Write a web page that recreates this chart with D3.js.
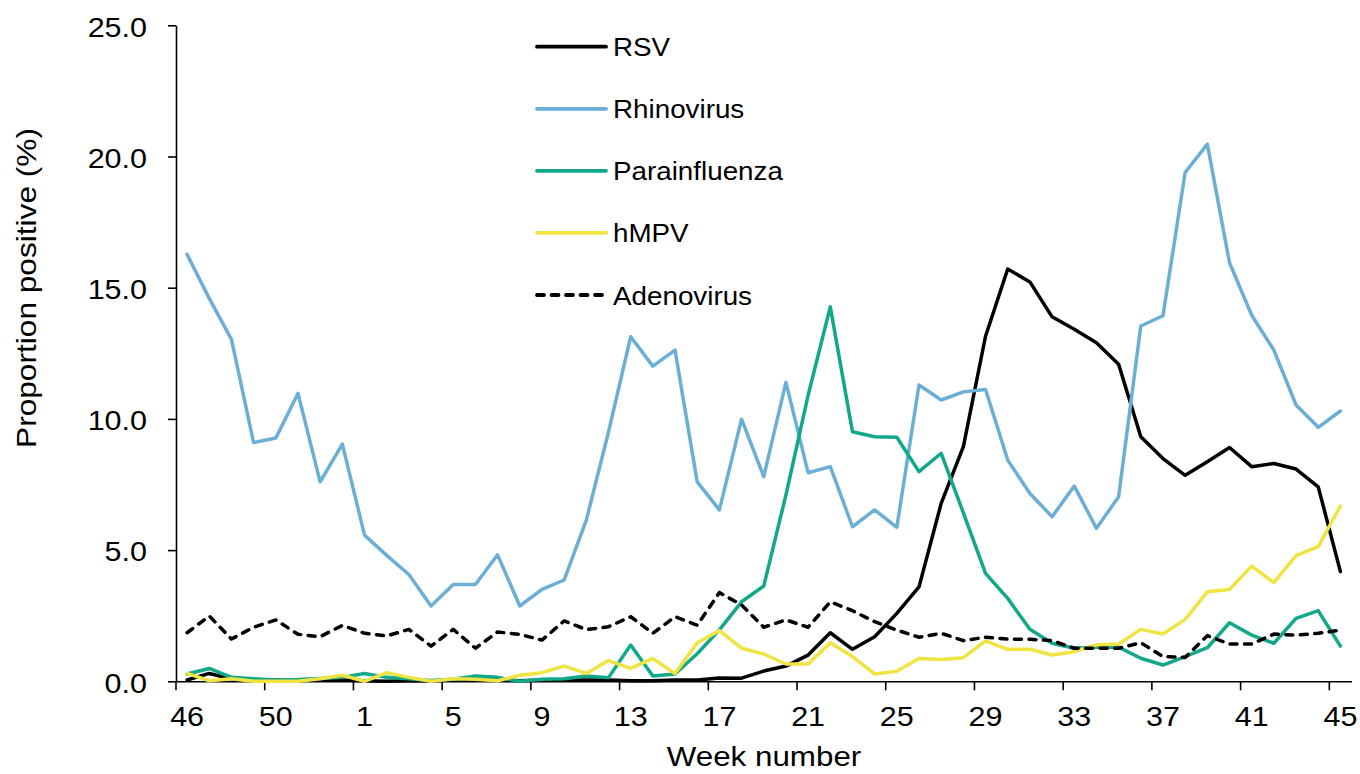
<!DOCTYPE html>
<html><head><meta charset="utf-8">
<script src="https://cdn.jsdelivr.net/npm/d3@7"></script>
<style>body{margin:0;background:#fff} text{font-family:"Liberation Sans",Arial,sans-serif;fill:#000}</style>
</head><body><svg id="c" width="1360" height="774"></svg>
<script>
const weeks=[46,47,48,49,50,51,52,53,1,2,3,4,5,6,7,8,9,10,11,12,13,14,15,16,17,18,19,20,21,22,23,24,25,26,27,28,29,30,31,32,33,34,35,36,37,38,39,40,41,42,43,44,45];
const xTickWeeks=[46,50,1,5,9,13,17,21,25,29,33,37,41,45];
const yTicks=[0,5,10,15,20,25];
const seriesNames=["RSV","Rhinovirus","Parainfluenza","hMPV","Adenovirus"];
const rsv=[0.05,0.3,0.1,0.05,0.05,0.05,0.05,0.05,0.02,0.0,0.02,0.02,0.05,0.05,0.05,0.02,0.05,0.05,0.05,0.05,0.02,0.02,0.05,0.05,0.13,0.12,0.39,0.58,1.0,1.85,1.22,1.7,2.59,3.6,6.78,8.94,13.15,15.71,15.22,13.89,13.42,12.9,12.08,9.32,8.49,7.85,8.37,8.91,8.18,8.3,8.09,7.41,4.18];
const rhinovirus=[16.27,14.59,13.03,9.10,9.27,10.97,7.60,9.04,5.57,4.8,4.07,2.87,3.69,3.69,4.82,2.87,3.5,3.86,6.14,9.5,13.13,12.01,12.62,7.6,6.53,9.99,7.8,11.39,7.95,8.18,5.89,6.53,5.87,11.29,10.72,11.03,11.12,8.43,7.16,6.27,7.44,5.83,7.03,13.54,13.93,19.39,20.47,15.95,13.95,12.62,10.53,9.68,10.3];
const parainfluenza=[0.28,0.49,0.15,0.1,0.05,0.07,0.11,0.15,0.3,0.15,0.1,0.03,0.08,0.2,0.15,0.0,0.08,0.1,0.2,0.14,1.38,0.2,0.28,1.05,1.96,3.03,3.63,7.1,10.9,14.27,9.51,9.32,9.3,7.99,8.69,6.42,4.11,3.16,1.98,1.45,1.26,1.3,1.3,0.88,0.62,0.94,1.28,2.23,1.76,1.45,2.4,2.69,1.34];
const hmpv=[0.3,0.02,0.1,0.0,0.0,0.0,0.1,0.23,0.0,0.33,0.15,0.0,0.1,0.08,0.02,0.23,0.33,0.58,0.3,0.79,0.49,0.87,0.3,1.47,1.93,1.26,1.04,0.66,0.66,1.47,0.94,0.28,0.38,0.87,0.83,0.9,1.54,1.22,1.22,1.0,1.13,1.39,1.42,1.98,1.8,2.36,3.41,3.5,4.39,3.76,4.79,5.13,6.68];
const adenovirus=[1.85,2.49,1.61,2.06,2.34,1.79,1.7,2.13,1.83,1.73,1.98,1.34,1.98,1.26,1.88,1.79,1.57,2.3,1.97,2.08,2.46,1.83,2.46,2.14,3.38,2.91,2.06,2.34,2.06,3.03,2.69,2.27,1.95,1.68,1.83,1.55,1.68,1.61,1.6,1.55,1.26,1.26,1.26,1.47,0.94,0.91,1.74,1.42,1.42,1.8,1.76,1.83,1.95];

const colors=["#000000","#6baed6","#12a88a","#f0e442","#000000"];
const dashes=[null,null,null,null,"7,7.5"];
const allSeries=[rsv,rhinovirus,parainfluenza,hmpv,adenovirus];

const svg=d3.select("#c");
const idx=d3.range(weeks.length);
const x=d3.scaleBand().domain(idx).range([176,1351.5]).padding(0);
const y=d3.scaleLinear().domain([0,25]).range([681.3,25.3]);
const cx=i=>x(i)+x.bandwidth()/2;

// X axis
const xTickIdx=xTickWeeks.map(w=>weeks.indexOf(w));
const gx=svg.append("g").attr("transform",`translate(0,${y(0)})`)
  .call(d3.axisBottom(x).tickValues(xTickIdx).tickFormat(i=>weeks[i]).tickSize(9).tickPadding(17).tickSizeOuter(0));
gx.select(".domain").attr("stroke","#000").attr("stroke-width",1.6);
gx.selectAll(".tick line").attr("stroke","#000").attr("stroke-width",1.6).attr("transform",`translate(${-x.bandwidth()/2},0)`);
gx.selectAll(".tick text").attr("font-size",27).attr("font-family","Liberation Sans, Arial, sans-serif").attr("transform","scale(1.13,1)");

// Y axis
const gy=svg.append("g").attr("transform",`translate(176,0)`)
  .call(d3.axisLeft(y).tickValues(yTicks).tickFormat(d3.format(".1f")).tickSize(8).tickPadding(21).tickSizeOuter(0));
gy.select(".domain").attr("stroke","#000").attr("stroke-width",1.6);
gy.selectAll(".tick line").attr("stroke","#000").attr("stroke-width",1.6);
gy.selectAll(".tick text").attr("font-size",27).attr("font-family","Liberation Sans, Arial, sans-serif")
  .attr("x",-29/1.13).attr("dy","0.4em").attr("transform","scale(1.13,1)");

// Lines
const line=d3.line().x((d,i)=>cx(i)).y(d=>y(d));
allSeries.forEach((s,k)=>{
  svg.append("path").datum(s).attr("d",line).attr("fill","none")
    .attr("stroke",colors[k]).attr("stroke-width",3.5)
    .attr("stroke-linejoin","round").attr("stroke-linecap","round")
    .attr("stroke-dasharray",dashes[k]);
});

// Legend
const legY=d3.scalePoint().domain(seriesNames).range([46.7,295]);
const lg=svg.append("g");
seriesNames.forEach((n,k)=>{
  lg.append("line").attr("x1",537).attr("x2",606).attr("y1",legY(n)).attr("y2",legY(n))
    .attr("stroke",colors[k]).attr("stroke-width",3.8).attr("stroke-linecap","round")
    .attr("stroke-dasharray",dashes[k]);
  lg.append("text").attr("transform",`translate(613,${legY(n)+9.5}) scale(1.09,1)`)
    .attr("font-size",25.5).text(n);
});

// Axis titles
svg.append("text").attr("transform","translate(764,766) scale(1.12,1)").attr("text-anchor","middle")
  .attr("font-size",28).text("Week number");
svg.append("text").attr("transform","translate(36,288) rotate(-90) scale(1.13,1)").attr("text-anchor","middle")
  .attr("font-size",28).text("Proportion positive (%)");
</script></body></html>
